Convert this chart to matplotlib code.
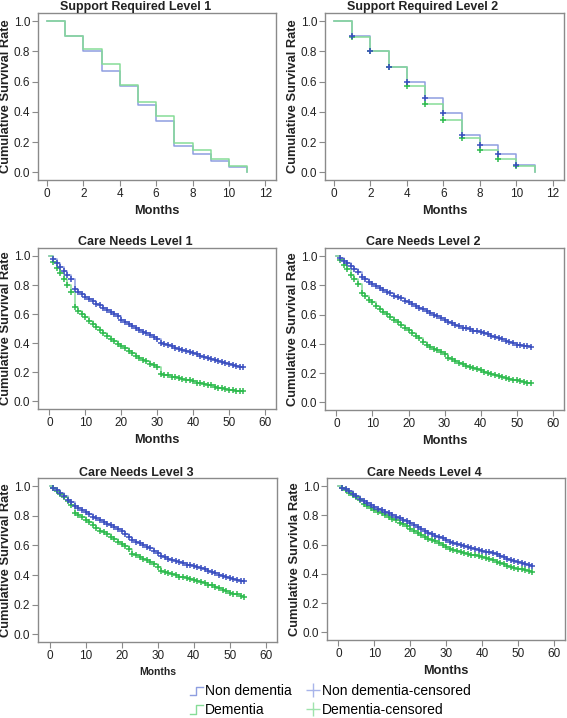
import matplotlib
matplotlib.use("Agg")
import matplotlib.pyplot as plt
from matplotlib.lines import Line2D
from matplotlib.legend_handler import HandlerBase
from matplotlib.transforms import offset_copy
import numpy as np

plt.rcParams['font.family'] = ['Liberation Sans', 'DejaVu Sans']

# ---- data ----
sr_months = list(range(0, 12))
sr1_non = [1.0, 0.90, 0.80, 0.67, 0.57, 0.445, 0.34, 0.175, 0.12, 0.075, 0.035, 0.0]
sr1_dem = [1.0, 0.905, 0.815, 0.72, 0.575, 0.465, 0.37, 0.195, 0.145, 0.09, 0.045, 0.0]
sr2_non = [1.0, 0.90, 0.805, 0.70, 0.60, 0.49, 0.395, 0.25, 0.18, 0.12, 0.05, 0.0]
sr2_dem = [1.0, 0.895, 0.80, 0.70, 0.57, 0.455, 0.345, 0.23, 0.145, 0.09, 0.04, 0.0]

cn_months = list(range(0, 55))
cn1_non = [1.0, 0.98, 0.95, 0.925, 0.90, 0.87, 0.84, 0.77, 0.755, 0.74,
           0.72, 0.705, 0.69, 0.67, 0.66, 0.64, 0.63, 0.615, 0.60, 0.585,
           0.56, 0.545, 0.53, 0.52, 0.505, 0.49, 0.48, 0.47, 0.455, 0.44,
           0.43, 0.405, 0.395, 0.39, 0.38, 0.37, 0.36, 0.355, 0.345, 0.34,
           0.335, 0.325, 0.315, 0.305, 0.30, 0.29, 0.285, 0.275, 0.27, 0.265,
           0.255, 0.25, 0.245, 0.238, 0.235]
cn1_dem = [1.0, 0.96, 0.92, 0.88, 0.84, 0.80, 0.75, 0.65, 0.625, 0.60,
           0.58, 0.555, 0.535, 0.51, 0.49, 0.47, 0.45, 0.43, 0.415, 0.395,
           0.38, 0.365, 0.35, 0.335, 0.31, 0.30, 0.285, 0.275, 0.26, 0.25,
           0.235, 0.19, 0.185, 0.18, 0.17, 0.165, 0.16, 0.155, 0.15, 0.145,
           0.14, 0.13, 0.125, 0.12, 0.115, 0.11, 0.10, 0.095, 0.09, 0.085,
           0.08, 0.078, 0.075, 0.072, 0.07]
cn2_non = [1.0, 0.985, 0.965, 0.95, 0.93, 0.91, 0.89, 0.86, 0.84, 0.825,
           0.81, 0.795, 0.78, 0.77, 0.755, 0.745, 0.73, 0.72, 0.71, 0.695,
           0.685, 0.67, 0.66, 0.645, 0.635, 0.625, 0.61, 0.60, 0.59, 0.575,
           0.56, 0.55, 0.54, 0.53, 0.52, 0.51, 0.505, 0.50, 0.49, 0.485,
           0.48, 0.475, 0.465, 0.455, 0.45, 0.44, 0.43, 0.42, 0.415, 0.405,
           0.395, 0.39, 0.385, 0.383, 0.38]
cn2_dem = [1.0, 0.975, 0.94, 0.91, 0.87, 0.84, 0.81, 0.75, 0.725, 0.70,
           0.685, 0.66, 0.64, 0.62, 0.605, 0.585, 0.565, 0.55, 0.53, 0.51,
           0.495, 0.475, 0.455, 0.44, 0.41, 0.395, 0.38, 0.365, 0.355, 0.345,
           0.33, 0.30, 0.295, 0.285, 0.27, 0.26, 0.25, 0.24, 0.235, 0.225,
           0.22, 0.21, 0.20, 0.195, 0.185, 0.18, 0.17, 0.165, 0.16, 0.155,
           0.15, 0.145, 0.14, 0.135, 0.133]
cn3_non = [1.0, 0.99, 0.975, 0.955, 0.935, 0.91, 0.89, 0.865, 0.85, 0.84,
           0.825, 0.81, 0.795, 0.785, 0.77, 0.76, 0.745, 0.735, 0.725, 0.71,
           0.695, 0.675, 0.655, 0.64, 0.625, 0.615, 0.60, 0.59, 0.58, 0.565,
           0.55, 0.53, 0.52, 0.51, 0.50, 0.495, 0.485, 0.48, 0.47, 0.465,
           0.46, 0.455, 0.45, 0.44, 0.43, 0.42, 0.415, 0.40, 0.395, 0.385,
           0.38, 0.375, 0.365, 0.36, 0.358]
cn3_dem = [1.0, 0.985, 0.97, 0.95, 0.925, 0.90, 0.87, 0.82, 0.805, 0.79,
           0.775, 0.755, 0.735, 0.72, 0.70, 0.69, 0.675, 0.66, 0.645, 0.625,
           0.61, 0.595, 0.575, 0.545, 0.535, 0.52, 0.51, 0.50, 0.485, 0.475,
           0.455, 0.425, 0.42, 0.415, 0.405, 0.40, 0.39, 0.385, 0.38, 0.375,
           0.37, 0.36, 0.35, 0.345, 0.335, 0.33, 0.32, 0.31, 0.30, 0.29,
           0.28, 0.275, 0.27, 0.26, 0.254]
cn4_non = [1.0, 0.99, 0.98, 0.965, 0.945, 0.93, 0.915, 0.90, 0.885, 0.87,
           0.86, 0.845, 0.835, 0.825, 0.815, 0.80, 0.79, 0.78, 0.77, 0.76,
           0.75, 0.735, 0.72, 0.705, 0.69, 0.68, 0.67, 0.66, 0.655, 0.645,
           0.635, 0.62, 0.612, 0.605, 0.598, 0.59, 0.582, 0.575, 0.568, 0.562,
           0.557, 0.552, 0.547, 0.54, 0.535, 0.525, 0.515, 0.505, 0.495, 0.487,
           0.48, 0.472, 0.465, 0.458, 0.453]
cn4_dem = [1.0, 0.985, 0.97, 0.955, 0.94, 0.925, 0.905, 0.875, 0.862, 0.85,
           0.84, 0.825, 0.815, 0.80, 0.79, 0.775, 0.765, 0.75, 0.74, 0.725,
           0.71, 0.695, 0.68, 0.665, 0.655, 0.64, 0.632, 0.625, 0.61, 0.60,
           0.585, 0.572, 0.565, 0.555, 0.548, 0.54, 0.535, 0.53, 0.526, 0.522,
           0.515, 0.508, 0.50, 0.492, 0.483, 0.476, 0.466, 0.457, 0.45, 0.442,
           0.435, 0.43, 0.425, 0.418, 0.41]

legend_labels = ["Non dementia", "Dementia", "Non dementia-censored", "Dementia-censored"]

BLUE_LINE = "#8e9ee0"
BLUE_MARK = "#3b4fc0"
GREEN_LINE = "#86dc97"
GREEN_MARK = "#2fbb4f"
FRAME = "#8a8a8a"
TXT = "#222222"


class StepHandler(HandlerBase):
    # little step glyph like the SPSS legend
    def create_artists(self, legend, orig, xd, yd, w, h, fontsize, trans):
        xs = [xd, xd + w * 0.45, xd + w * 0.45, xd + w]
        ys = [yd + h * 0.05, yd + h * 0.05, yd + h * 0.9, yd + h * 0.9]
        ln = Line2D(xs, ys, color=orig.get_color(), lw=1.0, transform=trans)
        return [ln]


def draw_panel(ax, months, non, dem, title, ylabel, xlim, xticks,
               censor_end=None, msize=5, xlabel_size=9.2):
    ax.step(months, non, where="post", color=BLUE_LINE, lw=1.1)
    ax.step(months, dem, where="post", color=GREEN_LINE, lw=1.1)
    if msize:
        cm = slice(1, censor_end)
        ax.plot(months[cm], dem[cm], ls="none", marker="+", ms=msize,
                mew=1.1, color=GREEN_MARK)
        ax.plot(months[cm], non[cm], ls="none", marker="+", ms=msize,
                mew=1.1, color=BLUE_MARK)
    ax.set_xlim(*xlim)
    ax.set_ylim(-0.052, 1.055)
    ax.set_xticks(xticks)
    ax.set_yticks(np.arange(0, 1.01, 0.2))
    ax.set_yticklabels(["%.1f" % v for v in np.arange(0, 1.01, 0.2)])
    ax.tick_params(labelsize=8.5, length=4, color=FRAME, labelcolor=TXT, pad=1.5)
    for sp in ax.spines.values():
        sp.set_color(FRAME)
        sp.set_linewidth(1.0)
    tr = offset_copy(ax.transAxes, fig=ax.figure, y=2.5, units="dots")
    ax.text(0.41, 1.0, title, transform=tr, ha="center", va="baseline",
            fontsize=9, fontweight="bold", color=TXT)
    ax.set_ylabel(ylabel, fontsize=9.3, fontweight="bold", color=TXT, labelpad=1)
    ax.set_xlabel("Months", fontsize=xlabel_size, fontweight="bold", color=TXT,
                  labelpad=4)


fig = plt.figure(figsize=(5.67, 7.18), dpi=100)

ax1 = fig.add_axes([0.067, 0.749, 0.420, 0.233])
ax2 = fig.add_axes([0.573, 0.749, 0.4215, 0.233])
ax3 = fig.add_axes([0.067, 0.4304, 0.420, 0.2242])
ax4 = fig.add_axes([0.573, 0.429, 0.4215, 0.2256])
ax5 = fig.add_axes([0.067, 0.1058, 0.4215, 0.2284])
ax6 = fig.add_axes([0.5767, 0.1086, 0.420, 0.2256])

sr_lim = (-0.5, 12.6)
sr_ticks = list(range(0, 13, 2))
cn_lim = (-3.2, 63.1)
cn_ticks = list(range(0, 61, 10))

draw_panel(ax1, sr_months, sr1_non, sr1_dem, "Support Required Level 1",
           "Cumulative Survival Rate", sr_lim, sr_ticks, msize=0)
draw_panel(ax2, sr_months, sr2_non, sr2_dem, "Support Required Level 2",
           "Cumulative Survival Rate", sr_lim, sr_ticks, censor_end=-1, msize=4)
draw_panel(ax3, cn_months, cn1_non, cn1_dem, "Care Needs Level 1",
           "Cumulative Survival Rate", cn_lim, cn_ticks)
draw_panel(ax4, cn_months, cn2_non, cn2_dem, "Care Needs Level 2",
           "Cumulative Survival Rate", cn_lim, cn_ticks)
draw_panel(ax5, cn_months, cn3_non, cn3_dem, "Care Needs Level 3",
           "Cumulative Survival Rate", cn_lim, cn_ticks, xlabel_size=7.5)
draw_panel(ax6, cn_months, cn4_non, cn4_dem, "Care Needs Level 4",
           "Cumulative Survivla Rate", cn_lim, cn_ticks)

h_non = Line2D([], [], color=BLUE_LINE)
h_dem = Line2D([], [], color=GREEN_LINE)
h_nonc = Line2D([], [], ls="none", marker="+", ms=10, mew=1.0, color="#a8b4ea")
h_demc = Line2D([], [], ls="none", marker="+", ms=10, mew=1.0, color="#9fe3ad")
fig.legend([h_non, h_dem, h_nonc, h_demc], legend_labels, ncol=2,
           loc="upper left", bbox_to_anchor=(182 / 567, 1 - 676 / 718),
           frameon=False, fontsize=10, handlelength=0.9, handletextpad=0.15,
           columnspacing=1.1, labelspacing=0.35, borderpad=0.1,
           handler_map={h_non: StepHandler(), h_dem: StepHandler()})

fig.savefig("out.png", dpi=100)
